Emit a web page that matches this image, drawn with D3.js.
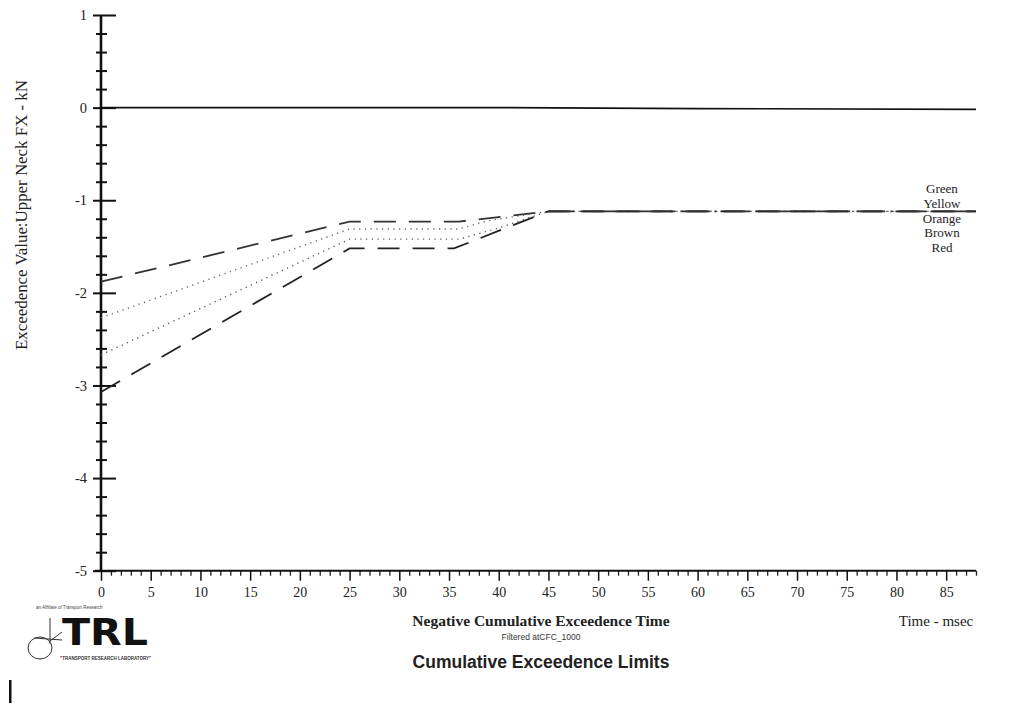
<!DOCTYPE html>
<html>
<head>
<meta charset="utf-8">
<script src="https://cdn.jsdelivr.net/npm/d3@7"></script>
<style>
  html, body { margin: 0; padding: 0; background: #fff; }
  svg { display: block; }
</style>
</head>
<body>
<svg id="chart" width="1009" height="709"></svg>
<script>
// Exceedence limit curves (time in msec, value in kN)
const limitNames = ["Green", "Yellow", "Orange", "Brown", "Red"];
const greenTimes  = [0, 25, 36, 45, 88];
const greenValues = [-1.88, -1.23, -1.23, -1.12, -1.12];
const yellowTimes  = [0, 25, 36, 39, 45, 88];
const yellowValues = [-2.27, -1.31, -1.31, -1.22, -1.12, -1.12];
const orangeTimes  = [0, 25, 36, 40, 45, 88];
const orangeValues = [-2.67, -1.42, -1.42, -1.30, -1.12, -1.12];
const brownTimes  = [0, 25, 35.5, 45, 88];
const brownValues = [-3.07, -1.52, -1.52, -1.12, -1.12];
const redTimes  = [45, 88];
const redValues = [-1.12, -1.12];

// Measured upper neck FX trace
const traceTimes  = [0, 40, 60, 88];
const traceValues = [0, 0, -0.01, -0.02];

// Axis ticks
const xMajorTicks = [0, 5, 10, 15, 20, 25, 30, 35, 40, 45, 50, 55, 60, 65, 70, 75, 80, 85];
const yMajorTicks = [1, 0, -1, -2, -3, -4, -5];
const yTickLabels = ["1", "0", "-1", "-2", "-3", "-4", "-5"];

const svg = d3.select("#chart");
const serif = "'Liberation Serif', 'DejaVu Serif', serif";
const sans = "'Liberation Sans', Arial, sans-serif";

const x = d3.scaleLinear().domain([0, 88]).range([101, 976]);
const y = d3.scaleLinear().domain([-5, 1]).range([570.7, 15]);

// X axis: major ticks every 5, minor every 1, ticks pointing down
const xMinor = d3.range(0, 89, 1).filter(v => v % 5 !== 0);
svg.append("g")
  .attr("transform", `translate(0,${y(-5)})`)
  .call(d3.axisBottom(x).tickValues(xMinor).tickSize(5).tickFormat(""))
  .call(g => g.select(".domain").remove())
  .call(g => g.selectAll(".tick line").attr("stroke", "#222").attr("stroke-width", 1.3));
svg.append("g")
  .attr("transform", `translate(0,${y(-5)})`)
  .call(d3.axisBottom(x).tickValues(xMajorTicks).tickSize(10).tickPadding(6).tickFormat(d3.format("d")))
  .call(g => g.select(".domain").attr("stroke", "#111").attr("stroke-width", 2).attr("d", `M${x(0) - 6},0H${x(88)}`))
  .call(g => g.selectAll(".tick line").attr("stroke", "#111").attr("stroke-width", 1.5))
  .call(g => g.selectAll(".tick text").attr("font-family", serif).attr("font-size", 14).attr("fill", "#222"));

// Y axis: ticks cross the axis line
const yMinor = d3.range(-50, 11, 2).map(v => v / 10).filter(v => Math.abs(v - Math.round(v)) > 1e-9);
svg.append("g")
  .attr("transform", `translate(${x(0)},0)`)
  .call(d3.axisLeft(y).tickValues(yMinor).tickSize(5).tickFormat(""))
  .call(g => g.select(".domain").remove())
  .call(g => g.selectAll(".tick line").attr("x1", 6).attr("stroke", "#111").attr("stroke-width", 2));
svg.append("g")
  .attr("transform", `translate(${x(0)},0)`)
  .call(d3.axisLeft(y).tickValues(yMajorTicks).tickSize(8).tickPadding(6)
    .tickFormat(d => yTickLabels[yMajorTicks.indexOf(d)]))
  .call(g => g.select(".domain").attr("stroke", "#111").attr("stroke-width", 2.6).attr("d", `M0,${y(1)}V${y(-5)}`))
  .call(g => g.selectAll(".tick line").attr("x1", 15).attr("stroke", "#111").attr("stroke-width", 2))
  .call(g => g.selectAll(".tick text").attr("font-family", serif).attr("font-size", 14.5).attr("fill", "#222"));

const line = d3.line().x(d => x(d[0])).y(d => y(d[1]));
const pairs = (ts, vs) => ts.map((t, i) => [t, vs[i]]);

// Zero trace
svg.append("path")
  .datum(pairs(traceTimes, traceValues))
  .attr("d", line).attr("fill", "none")
  .attr("stroke", "#111").attr("stroke-width", 1.7);

// Limit curves
const limits = [
  { name: limitNames[0], data: pairs(greenTimes, greenValues),  dash: "22,13", width: 1.8, color: "#333" },
  { name: limitNames[1], data: pairs(yellowTimes, yellowValues), dash: "1.2,4.5", width: 1.4, color: "#666" },
  { name: limitNames[2], data: pairs(orangeTimes, orangeValues), dash: "1.2,4.5", width: 1.4, color: "#555" },
  { name: limitNames[3], data: pairs(brownTimes, brownValues),  dash: "22,13", width: 1.8, color: "#222" },
  { name: limitNames[4], data: pairs(redTimes, redValues),      dash: "26,8,2,8", width: 1.6, color: "#333" }
];
svg.append("g").selectAll("path")
  .data(limits)
  .join("path")
  .attr("d", d => line(d.data))
  .attr("fill", "none")
  .attr("stroke", d => d.color)
  .attr("stroke-width", d => d.width)
  .attr("stroke-dasharray", d => d.dash);

// Curve names stacked at the right end
svg.append("g").selectAll("text")
  .data(limitNames)
  .join("text")
  .attr("x", 942)
  .attr("y", (d, i) => 193 + i * 14.8)
  .attr("text-anchor", "middle")
  .attr("font-family", serif)
  .attr("font-size", 13)
  .attr("fill", "#222")
  .text(d => d);

// Axis titles
svg.append("text")
  .attr("transform", "translate(27,215) rotate(-90)")
  .attr("text-anchor", "middle")
  .attr("font-family", serif).attr("font-size", 16.5).attr("fill", "#222")
  .attr("textLength", 270).attr("lengthAdjust", "spacingAndGlyphs")
  .text("Exceedence Value:Upper Neck FX - kN");

svg.append("text")
  .attr("x", 541).attr("y", 626)
  .attr("text-anchor", "middle")
  .attr("font-family", serif).attr("font-size", 15.5).attr("font-weight", "bold").attr("fill", "#222")
  .text("Negative Cumulative Exceedence Time");

svg.append("text")
  .attr("x", 541).attr("y", 640)
  .attr("text-anchor", "middle")
  .attr("font-family", sans).attr("font-size", 8.5).attr("fill", "#333")
  .text("Filtered atCFC_1000");

svg.append("text")
  .attr("x", 541).attr("y", 668)
  .attr("text-anchor", "middle")
  .attr("font-family", sans).attr("font-size", 17.5).attr("font-weight", "bold").attr("fill", "#222")
  .text("Cumulative Exceedence Limits");

svg.append("text")
  .attr("x", 936).attr("y", 626)
  .attr("text-anchor", "middle")
  .attr("font-family", serif).attr("font-size", 15).attr("fill", "#222")
  .text("Time - msec");

// Laboratory logo
const logo = svg.append("g");
logo.append("ellipse").attr("cx", 40).attr("cy", 648).attr("rx", 12).attr("ry", 11)
  .attr("fill", "none").attr("stroke", "#333").attr("stroke-width", 1);
logo.append("path").attr("d", "M50,641 L62,632 M50,618 L50,644 M34,638 L62,640")
  .attr("fill", "none").attr("stroke", "#333").attr("stroke-width", 1);
logo.append("text")
  .attr("x", 62).attr("y", 645)
  .attr("font-family", "'DejaVu Sans', sans-serif").attr("font-size", 37).attr("font-weight", 900)
  .attr("textLength", 86).attr("lengthAdjust", "spacingAndGlyphs")
  .attr("fill", "#111")
  .text("TRL");
logo.append("text")
  .attr("x", 36).attr("y", 609)
  .attr("font-family", sans).attr("font-size", 4.5).attr("fill", "#444")
  .text("an Affiliate of Transport Research");
logo.append("text")
  .attr("x", 60).attr("y", 660)
  .attr("font-family", sans).attr("font-size", 4.5).attr("font-weight", "bold").attr("fill", "#333")
  .text("\"TRANSPORT RESEARCH LABORATORY\"");

// Text cursor mark
svg.append("rect").attr("x", 9).attr("y", 680).attr("width", 2.5).attr("height", 23).attr("fill", "#111");
</script>
</body>
</html>
